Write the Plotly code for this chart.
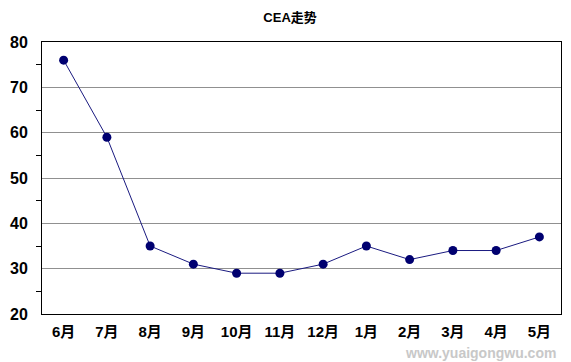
import plotly.graph_objects as go

months = ["6月", "7月", "8月", "9月", "10月", "11月", "12月", "1月", "2月", "3月", "4月", "5月"]
cea = [76, 59, 35, 31, 29, 29, 31, 35, 32, 34, 34, 37]
y_ticks = [20, 30, 40, 50, 60, 70, 80]

fig = go.Figure()
fig.add_trace(go.Scatter(
    x=months, y=cea, mode="lines+markers",
    line=dict(color="#1a1a80", width=1),
    marker=dict(color="#000070", size=9),
    showlegend=False,
))

fig.update_layout(
    width=571, height=362,
    margin=dict(l=42, r=10, t=42, b=48, autoexpand=False),
    paper_bgcolor="white", plot_bgcolor="white",
    font=dict(family="Liberation Sans, Arial, sans-serif", color="black"),
    title=dict(text="<b>CEA走势</b>", x=0.508, xanchor="center", y=0.953, yanchor="middle",
               font=dict(size=13, family="Liberation Sans, Noto Sans CJK SC, sans-serif")),
)
fig.update_xaxes(
    type="category", range=[-0.5, 11.5], automargin=False,
    showline=True, linecolor="black", linewidth=1, mirror=True,
    showgrid=False, ticks="", ticklabelstandoff=4,
    tickfont=dict(size=15, family="Liberation Sans, Noto Sans CJK SC, sans-serif", weight="bold"),
)
fig.update_yaxes(
    range=[20, 80], tickvals=y_ticks, automargin=False,
    showline=True, linecolor="black", linewidth=1, mirror=True,
    showgrid=True, gridcolor="#909090", gridwidth=1,
    ticks="", ticklabelstandoff=10,
    minor=dict(tickvals=[25, 35, 45, 55, 65, 75], ticks="outside", ticklen=5, tickcolor="black", showgrid=False),
    tickfont=dict(size=16, weight="bold"),
)
fig.add_annotation(
    text="www.yuaigongwu.com", xref="paper", yref="paper",
    x=0.995, y=-0.142, xanchor="right", yanchor="middle", showarrow=False,
    font=dict(size=14, color="#c8c8c8", weight="bold"),
)
fig.write_html("out.html", config={"displayModeBar": False},
               post_script="document.body.style.margin='0';document.body.style.overflow='hidden';")
